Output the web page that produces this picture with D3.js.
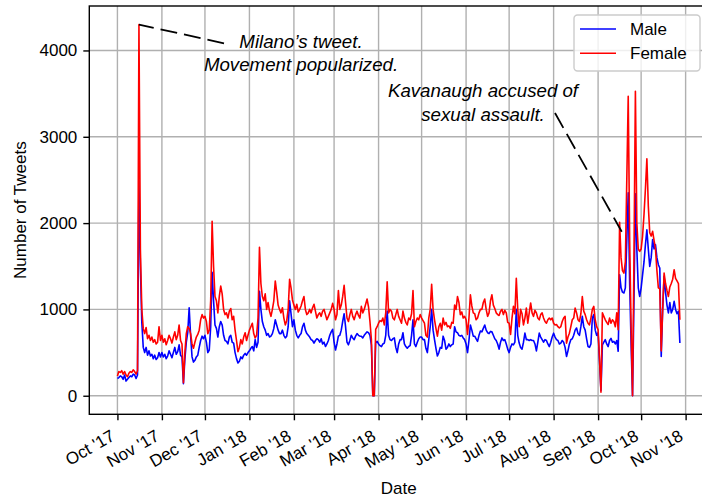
<!DOCTYPE html>
<html>
<head>
<meta charset="utf-8">
<script src="https://cdn.jsdelivr.net/npm/d3@7"></script>
<style>
  html, body { margin: 0; padding: 0; background: #fff; overflow: hidden; }
  svg { display: block; font-family: "Liberation Sans", Arial, Helvetica, sans-serif; }
</style>
</head>
<body>
<svg id="chart" width="702" height="500"></svg>
<script>
// Daily number of tweets, one value per day starting 1 Oct 2017
const startDate = "2017-10-01";

const maleCounts = [
  // Oct '17
  200, 210, 230, 220, 190, 240, 170, 190, 210, 230, 220, 250, 240, 200, 240,
  2500, 1500, 850, 560, 500, 560, 470, 520, 460, 480, 430, 470, 420, 440, 500, 450,
  // Nov '17
  500, 450, 480, 430, 460, 520, 480, 440, 500, 560, 480, 510, 590, 470, 450,
  140, 420, 620, 730, 1020, 700, 450, 390, 410, 450, 470, 560, 640, 690, 660,
  // Dec '17
  700, 620, 500, 530, 800, 1430, 1100, 820, 780, 680, 800, 860, 820, 700, 640, 630,
  600, 680, 700, 620, 610, 500, 430, 380, 400, 450, 430, 470, 490, 470, 500,
  // Jan '18
  520, 550, 570, 520, 650, 560, 620, 1210, 1000, 860, 800, 760, 700, 720, 680, 690,
  720, 780, 880, 820, 760, 720, 720, 760, 700, 670, 690, 800, 1100, 950, 800,
  // Feb '18
  880, 760, 700, 670, 700, 720, 800, 840, 760, 720, 700, 680, 650, 640,
  610, 640, 660, 650, 620, 660, 600, 620, 570, 600, 640, 700, 740, 770,
  // Mar '18
  620, 530, 600, 690, 700, 760, 860, 950, 800, 620, 590, 640, 700, 670, 650, 690,
  720, 700, 690, 690, 670, 700, 720, 740, 730, 700, 590, 0, 0, 610, 630,
  // Apr '18
  600, 580, 570, 600, 610, 700, 980, 700, 650, 640, 660, 670, 560, 500, 600,
  650, 650, 730, 600, 570, 550, 570, 580, 700, 880, 600, 570, 620, 660, 680,
  // May '18
  680, 650, 650, 550, 500, 650, 800, 1000, 760, 650, 550, 460, 500, 560, 550, 690,
  640, 540, 560, 600, 570, 590, 600, 800, 740, 730, 700, 690, 700, 670, 650,
  // Jun '18
  600, 500, 640, 820, 760, 690, 690, 660, 630, 700, 750, 740, 780, 820, 760,
  730, 720, 745, 740, 700, 660, 640, 600, 540, 620, 670, 640, 650, 600, 540,
  // Jul '18
  500, 560, 600, 590, 620, 1000, 700, 610, 560, 540, 620, 725, 650, 650, 640, 650,
  640, 640, 600, 520, 620, 725, 680, 650, 620, 650, 640, 600, 570, 620, 680,
  // Aug '18
  725, 680, 650, 640, 600, 610, 640, 620, 560, 455, 520, 600, 650, 660, 700, 760,
  785, 720, 700, 800, 920, 800, 760, 660, 570, 560, 600, 900, 940, 760, 700,
  // Sep '18
  730, 400, 60, 590, 620, 650, 600, 570, 640, 665, 620, 630, 600, 640, 515,
  1400, 1250, 1200, 1190, 1250, 1800, 2350, 1300, 600, 0, 1100, 2340, 1700, 1250, 1150,
  // Oct '18
  1250, 1400, 1550, 1750, 1923, 1700, 1498, 1600, 1808, 1700, 1750, 1600, 1518, 1480,
  455, 1000, 1383, 1200, 1050, 960, 1080, 960, 1000, 1093, 1000, 950, 980, 610
];

const femaleCounts = [
  // Oct '17
  230, 280, 270, 290, 250, 280, 240, 220, 260, 280, 270, 300, 280, 250, 290,
  4300, 1700, 1000, 780, 720, 790, 660, 700, 640, 680, 620, 650, 600, 620, 800, 640,
  // Nov '17
  700, 620, 660, 590, 640, 700, 660, 610, 680, 740, 650, 700, 820, 640, 600,
  150, 500, 720, 800, 780, 720, 600, 550, 620, 680, 710, 760, 880, 940, 900,
  // Dec '17
  920, 860, 720, 760, 1100, 2020, 1500, 1150, 1100, 960, 1150, 1270, 1180, 1000, 940, 960,
  900, 980, 1010, 880, 920, 760, 640, 510, 560, 650, 600, 680, 730, 640, 700,
  // Jan '18
  760, 800, 840, 720, 670, 700, 900, 1720, 1300, 1150, 1100, 1180, 1000, 1080, 980, 920,
  1000, 1100, 1330, 1200, 1050, 1000, 960, 1020, 900, 820, 870, 1000, 1350, 1250, 1110,
  // Feb '18
  1050, 1000, 1060, 970, 1000, 1040, 1100, 1150, 1000, 940, 960, 1000, 960, 1020,
  1060, 980, 900, 940, 960, 920, 980, 1000, 940, 880, 920, 960, 1000, 1070,
  // Mar '18
  1000, 880, 940, 1220, 1000, 1050, 1150, 1280, 1080, 900, 860, 940, 1000, 920, 880, 940,
  980, 930, 900, 1035, 960, 1000, 1060, 1120, 1030, 860, 650, 0, 0, 770, 800,
  // Apr '18
  840, 870, 860, 900, 820, 960, 1320, 960, 1000, 980, 900, 880, 940, 1000, 920,
  880, 840, 980, 900, 850, 820, 900, 880, 950, 1220, 800, 860, 900, 880, 940,
  // May '18
  900, 870, 840, 700, 680, 900, 1000, 1290, 1000, 880, 780, 690, 800, 840, 760, 900,
  820, 850, 800, 810, 780, 850, 840, 1050, 1000, 1150, 1080, 940, 970, 900, 920,
  // Jun '18
  880, 710, 900, 1170, 1040, 960, 950, 880, 900, 960, 1000, 1000, 1080, 1120, 1000,
  920, 960, 1100, 1170, 1050, 1010, 960, 940, 930, 980, 1000, 940, 990, 960, 850,
  // Jul '18
  840, 710, 900, 1035, 950, 1360, 1000, 800, 1000, 950, 820, 900, 1015, 840, 960, 1075,
  960, 920, 990, 960, 900, 880, 940, 960, 900, 860, 840, 880, 900, 880, 900,
  // Aug '18
  840, 820, 825, 800, 785, 800, 860, 900, 920, 610, 680, 725, 800, 880, 900, 1015,
  960, 880, 860, 950, 1150, 980, 940, 880, 840, 820, 900, 1000, 1035, 880, 800,
  // Sep '18
  765, 420, 40, 960, 920, 880, 850, 825, 900, 840, 880, 860, 800, 960, 765,
  2008, 1600, 1450, 1420, 1550, 2500, 3470, 1800, 800, 0, 1600, 3526, 2000, 1700, 1672,
  // Oct '18
  1700, 1850, 2100, 2400, 2746, 2200, 1888, 1850, 1904, 1800, 1700, 1450, 1250, 1240,
  520, 1000, 1420, 1300, 1220, 1150, 1260, 1300, 1350, 1460, 1360, 1330, 1300, 880
];

const seriesNames = ["Male", "Female"];
const seriesColors = ["#0000ff", "#ff0000"];

const xTickDates = ["2017-10-01", "2017-11-01", "2017-12-01", "2018-01-01", "2018-02-01",
  "2018-03-01", "2018-04-01", "2018-05-01", "2018-06-01", "2018-07-01", "2018-08-01",
  "2018-09-01", "2018-10-01", "2018-11-01"];
const xTickLabels = ["Oct '17", "Nov '17", "Dec '17", "Jan '18", "Feb '18", "Mar '18",
  "Apr '18", "May '18", "Jun '18", "Jul '18", "Aug '18", "Sep '18", "Oct '18", "Nov '18"];
const yTicks = [0, 1000, 2000, 3000, 4000];

// annotation targets (date, value) and their text
const annotationDates = ["2017-10-16T00:00:00Z", "2018-09-17T12:00:00Z"];
const annotationValues = [4300, 1900];
const annotationTexts = [["Milano\u2019s tweet.", "Movement popularized."],
                         ["Kavanaugh accused of", "sexual assault."]];

// layout (matplotlib-like axes box; right edge falls just outside the picture)
const box = { left: 89.3, right: 708, top: 6, bottom: 414.3 };
const fontSize = 17;

const svg = d3.select("#chart");
const parse = s => new Date(s.length > 10 ? s : s + "T00:00:00Z");

const start = parse(startDate);
const dates = femaleCounts.map((_, i) => d3.utcDay.offset(start, i));

// 5% padding on both axes, like matplotlib's default margins
const span = dates[dates.length - 1] - dates[0];
const x = d3.scaleUtc()
    .domain([new Date(+dates[0] - 0.05 * span), new Date(+dates[dates.length - 1] + 0.05 * span)])
    .range([box.left, box.right]);

const yMax = d3.max([...femaleCounts, ...maleCounts]);
const yMin = d3.min([...femaleCounts, ...maleCounts]);
const yPad = 0.05 * (yMax - yMin);
const y = d3.scaleLinear()
    .domain([yMin - yPad, yMax + yPad])
    .range([box.bottom, box.top]);

// grid
const grid = svg.append("g").attr("stroke", "#b0b0b0").attr("stroke-width", 1.4);
grid.selectAll(".vgrid")
    .data(xTickDates.map(parse))
    .enter().append("line")
    .attr("x1", d => x(d)).attr("x2", d => x(d))
    .attr("y1", box.top).attr("y2", box.bottom);
grid.selectAll(".hgrid")
    .data(yTicks)
    .enter().append("line")
    .attr("x1", box.left).attr("x2", box.right)
    .attr("y1", d => y(d)).attr("y2", d => y(d));

// lines (male first, female on top)
const line = d3.line()
    .x((d, i) => x(dates[i]))
    .y(d => y(d));

[maleCounts, femaleCounts].forEach((vals, k) => {
    svg.append("path")
        .datum(vals)
        .attr("fill", "none")
        .attr("stroke", seriesColors[k])
        .attr("stroke-width", 1.6)
        .attr("stroke-linejoin", "round")
        .attr("d", line);
});

// spines
svg.append("rect")
    .attr("x", box.left).attr("y", box.top)
    .attr("width", box.right - box.left).attr("height", box.bottom - box.top)
    .attr("fill", "none").attr("stroke", "#000").attr("stroke-width", 1.4);

// x axis
const xAxis = d3.axisBottom(x)
    .tickValues(xTickDates.map(parse))
    .tickFormat((d, i) => xTickLabels[i])
    .tickSize(6).tickSizeOuter(0);

const gx = svg.append("g")
    .attr("transform", `translate(0, ${box.bottom})`)
    .call(xAxis);
gx.select(".domain").remove();
gx.selectAll(".tick line").attr("stroke-width", 1.4);
gx.selectAll(".tick text")
    .attr("font-size", fontSize)
    .attr("font-family", null)
    .attr("fill", "#000")
    .attr("text-anchor", "end")
    .attr("dominant-baseline", "central")
    .attr("x", -4.75).attr("y", 20.2).attr("dy", null)
    .attr("transform", "rotate(-30, -4.75, 20.2)");

// y axis
const yAxis = d3.axisLeft(y)
    .tickValues(yTicks)
    .tickFormat(d3.format("d"))
    .tickSize(6).tickPadding(6).tickSizeOuter(0);
const gy = svg.append("g")
    .attr("transform", `translate(${box.left}, 0)`)
    .call(yAxis);
gy.select(".domain").remove();
gy.selectAll(".tick line").attr("stroke-width", 1.4);
gy.selectAll(".tick text")
    .attr("font-size", fontSize)
    .attr("font-family", null)
    .attr("fill", "#000");

// axis labels
svg.append("text")
    .attr("x", (box.left + box.right) / 2)
    .attr("y", 494)
    .attr("text-anchor", "middle")
    .attr("font-size", fontSize)
    .text("Date");

svg.append("text")
    .attr("transform", `translate(26, ${(box.top + box.bottom) / 2}) rotate(-90)`)
    .attr("text-anchor", "middle")
    .attr("font-size", fontSize)
    .text("Number of Tweets");

// annotations
const textPos = [{ x: 301, y: 48 }, { x: 483, y: 97.3 }];
const lineFrom = [{ x: 224, y: 43.3 }, { x: 555, y: 113 }];

annotationTexts.forEach((lines, k) => {
    svg.append("line")
        .attr("x1", lineFrom[k].x).attr("y1", lineFrom[k].y)
        .attr("x2", x(parse(annotationDates[k]))).attr("y2", y(annotationValues[k]))
        .attr("stroke", "#000")
        .attr("stroke-width", 1.8)
        .attr("stroke-dasharray", "17,7");

    const t = svg.append("text")
        .attr("font-size", 18.7)
        .attr("font-style", "italic")
        .attr("text-anchor", "middle");
    lines.forEach((s, j) => {
        t.append("tspan")
            .attr("x", textPos[k].x)
            .attr("y", textPos[k].y + j * 23.4)
            .text(s);
    });
});

// legend
const legend = svg.append("g").attr("transform", "translate(574, 15)");
legend.append("rect")
    .attr("width", 126).attr("height", 56).attr("rx", 3.5)
    .attr("fill", "#fff").attr("fill-opacity", 0.8)
    .attr("stroke", "#cccccc").attr("stroke-width", 1.4);

const items = legend.selectAll(".item")
    .data(seriesNames)
    .enter().append("g")
    .attr("transform", (d, i) => `translate(0, ${14 + i * 24.3})`);

items.append("line")
    .attr("x1", 6).attr("x2", 42)
    .attr("stroke", (d, i) => seriesColors[i])
    .attr("stroke-width", 1.6);

items.append("text")
    .attr("x", 56)
    .attr("dy", "0.35em")
    .attr("font-size", fontSize)
    .text(d => d);
</script>
</body>
</html>
